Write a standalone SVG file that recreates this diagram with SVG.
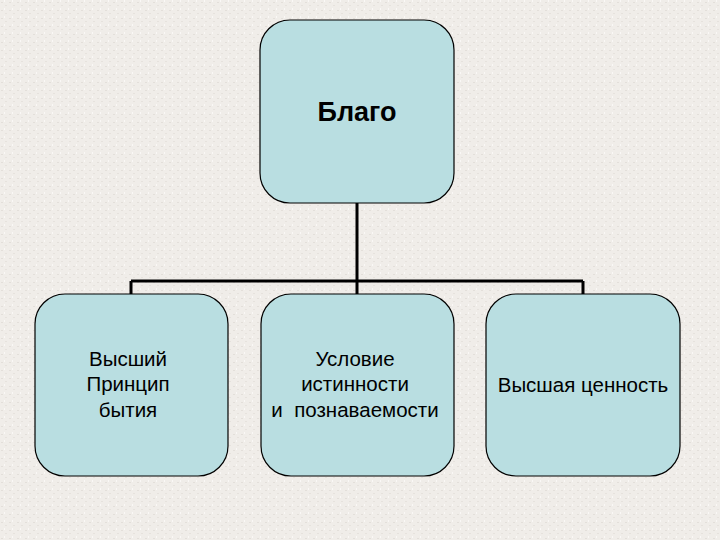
<svg xmlns="http://www.w3.org/2000/svg" width="720" height="540" viewBox="0 0 720 540">
<style>
.box{fill:#b9dee1;stroke:#000;stroke-width:1.2}
.t{font-family:"Liberation Sans",Arial,sans-serif;font-size:20.5px;fill:#000;text-anchor:middle}
.tb{font-family:"Liberation Sans",Arial,sans-serif;font-size:27px;font-weight:bold;fill:#000;text-anchor:middle}
.c{fill:none;stroke:#000;stroke-width:3}
</style>
<defs>
<pattern id="bg" width="8" height="8" patternUnits="userSpaceOnUse">
<rect width="8" height="8" fill="#f0ede9"/>
<rect x="1" y="2" width="2" height="1" fill="#e3dfda"/>
<rect x="5" y="5" width="2" height="1" fill="#e6e2dd"/>
<rect x="4" y="0" width="1" height="2" fill="#faf8f6"/>
</pattern>
</defs>
<rect width="720" height="540" fill="url(#bg)"/>
<g id="connectors">
<path class="c" d="M357 203 V281 M131 281 H583 M131 281 V294 M357 281 V294 M583 281 V294"/>
</g>
<g id="node-blago">
<rect class="box" x="260" y="20" width="194" height="183" rx="30" ry="30"/>
<text class="tb" x="357" y="121">Благо</text>
</g>
<g id="node-principle">
<rect class="box" x="35" y="294" width="193" height="182" rx="30" ry="30"/>
<text class="t" x="128" y="366">Высший</text>
<text class="t" x="128" y="391">Принцип</text>
<text class="t" x="128" y="417">бытия</text>
</g>
<g id="node-condition">
<rect class="box" x="261" y="294" width="193" height="182" rx="30" ry="30"/>
<text class="t" x="355" y="366">Условие</text>
<text class="t" x="355" y="391">истинности</text>
<text class="t" x="355" y="417" xml:space="preserve">и  познаваемости</text>
</g>
<g id="node-value">
<rect class="box" x="486" y="294" width="194" height="182" rx="30" ry="30"/>
<text class="t" x="583" y="392">Высшая ценность</text>
</g>
</svg>
